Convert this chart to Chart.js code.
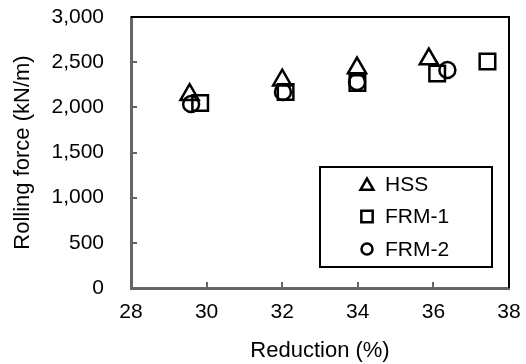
<!DOCTYPE html>
<html>
<head>
<meta charset="utf-8">
<script src="https://cdn.jsdelivr.net/npm/chart.js@4.4.1/dist/chart.umd.min.js"></script>
<style>
  html, body { margin: 0; padding: 0; background: #fff; }
  #wrap { width: 526px; height: 364px; }
</style>
</head>
<body>
<div id="wrap"><canvas id="rollChart"></canvas></div>
<script>
// values
var seriesNames = ['HSS', 'FRM-1', 'FRM-2'];
var reductionHSS = [29.55, 32.0, 33.98, 35.88];
var forceHSS = [2140, 2300, 2435, 2535];
var reductionFRM1 = [29.83, 32.09, 33.99, 36.1, 37.43];
var forceFRM1 = [2048, 2170, 2270, 2375, 2507];
var reductionFRM2 = [29.59, 32.02, 33.98, 36.37];
var forceFRM2 = [2037, 2170, 2280, 2413];

var FONT = "'Liberation Sans', Arial, sans-serif";

function toPoints(xs, ys) {
		return xs.map(function (x, i) { return { x: x, y: ys[i] }; });
}

// ticks pointing into the plot + black top/right frame
var frameTicks = {
		id: 'frameTicks',
		afterDraw: function (chart) {
				var ctx = chart.ctx, a = chart.chartArea;
				var xs = chart.scales.x, ys = chart.scales.y;
				ctx.save();
				ctx.strokeStyle = '#666';
				ctx.lineWidth = 2;
				ctx.beginPath();
				xs.ticks.forEach(function (t) {
						var px = Math.round(xs.getPixelForValue(t.value));
						ctx.moveTo(px, a.bottom);
						ctx.lineTo(px, a.bottom - 6);
				});
				ys.ticks.forEach(function (t) {
						var py = Math.round(ys.getPixelForValue(t.value));
						ctx.moveTo(a.left, py);
						ctx.lineTo(a.left + 6, py);
				});
				ctx.stroke();
				ctx.strokeStyle = '#000';
				ctx.lineWidth = 2;
				ctx.beginPath();
				ctx.moveTo(a.left, a.top);
				ctx.lineTo(a.right, a.top);
				ctx.lineTo(a.right, a.bottom);
				ctx.stroke();
				ctx.restore();
		}
};

// boxed legend sitting inside the plot, lower right
var boxLegend = {
		id: 'boxLegend',
		afterDraw: function (chart) {
				var ctx = chart.ctx, a = chart.chartArea;
				var w = 172, h = 100;
				var bx = a.right - 17 - w, by = a.bottom - 21 - h;
				ctx.save();
				ctx.fillStyle = '#fff';
				ctx.fillRect(bx, by, w, h);
				ctx.strokeStyle = '#000';
				ctx.lineWidth = 2;
				ctx.strokeRect(bx, by, w, h);
				ctx.font = '21px ' + FONT;
				ctx.textBaseline = 'middle';
				var sizes = [7.5, 8, 5.5];
				chart.data.datasets.forEach(function (ds, i) {
						var cy = by + 17 + i * 32.5;
						ctx.strokeStyle = '#000';
						ctx.fillStyle = 'rgba(0,0,0,0)';
						ctx.lineWidth = 2.5;
						Chart.helpers.drawPoint(ctx, {
								pointStyle: ds.pointStyle,
								radius: sizes[i],
								rotation: 0,
								borderWidth: 2.5
						}, bx + 47, cy + (ds.pointStyle === 'triangle' ? 2 : 0));
						ctx.fillStyle = '#000';
						ctx.fillText(ds.label, bx + 65, cy + 1);
				});
				ctx.restore();
		}
};

var rollctx = document.getElementById('rollChart').getContext('2d');
var rollchart = new Chart(rollctx, {
		type: 'scatter',
		data: {
				datasets: [{
						label: seriesNames[0],
						data: toPoints(reductionHSS, forceHSS),
						pointStyle: 'triangle',
						pointRadius: 10.5,
						pointHoverRadius: 10.5,
						borderColor: '#000',
						backgroundColor: 'rgba(0,0,0,0)',
						borderWidth: 2.5
				}, {
						label: seriesNames[1],
						data: toPoints(reductionFRM1, forceFRM1),
						pointStyle: 'rect',
						pointRadius: 11,
						pointHoverRadius: 11,
						borderColor: '#000',
						backgroundColor: 'rgba(0,0,0,0)',
						borderWidth: 2.5
				}, {
						label: seriesNames[2],
						data: toPoints(reductionFRM2, forceFRM2),
						pointStyle: 'circle',
						pointRadius: 8,
						pointHoverRadius: 8,
						borderColor: '#000',
						backgroundColor: 'rgba(0,0,0,0)',
						borderWidth: 2.5
				}]
		},
		options: {
				responsive: true,
				maintainAspectRatio: false,
				animation: false,
				layout: { padding: { top: 17, right: 17, left: 0, bottom: 0 } },
				plugins: {
						legend: { display: false },
						tooltip: { enabled: false }
				},
				scales: {
						x: {
								type: 'linear',
								min: 28,
								max: 38,
								ticks: { stepSize: 2, color: '#000', padding: 12, font: { family: FONT, size: 21 } },
								grid: { drawOnChartArea: false, drawTicks: false },
								border: { color: '#666', width: 3 },
								title: {
										display: true,
										text: 'Reduction (%)',
										color: '#000',
										font: { family: FONT, size: 22 },
										padding: { top: 5, bottom: 0 }
								},
								afterFit: function (s) {
										s.height = 76;
										s.paddingLeft = 0;
										s.paddingRight = 0;
								}
						},
						y: {
								min: 0,
								max: 3000,
								ticks: { stepSize: 500, color: '#000', padding: 27, font: { family: FONT, size: 21 } },
								grid: { drawOnChartArea: false, drawTicks: false },
								border: { color: '#666', width: 3 },
								title: {
										display: true,
										text: 'Rolling force (kN/m)',
										color: '#000',
										font: { family: FONT, size: 22 },
										padding: { top: 10, bottom: 0 }
								},
								afterFit: function (s) {
										s.width = 131;
										s.paddingTop = 0;
										s.paddingBottom = 0;
								}
						}
				}
		},
		plugins: [frameTicks, boxLegend]
});
</script>
</body>
</html>
